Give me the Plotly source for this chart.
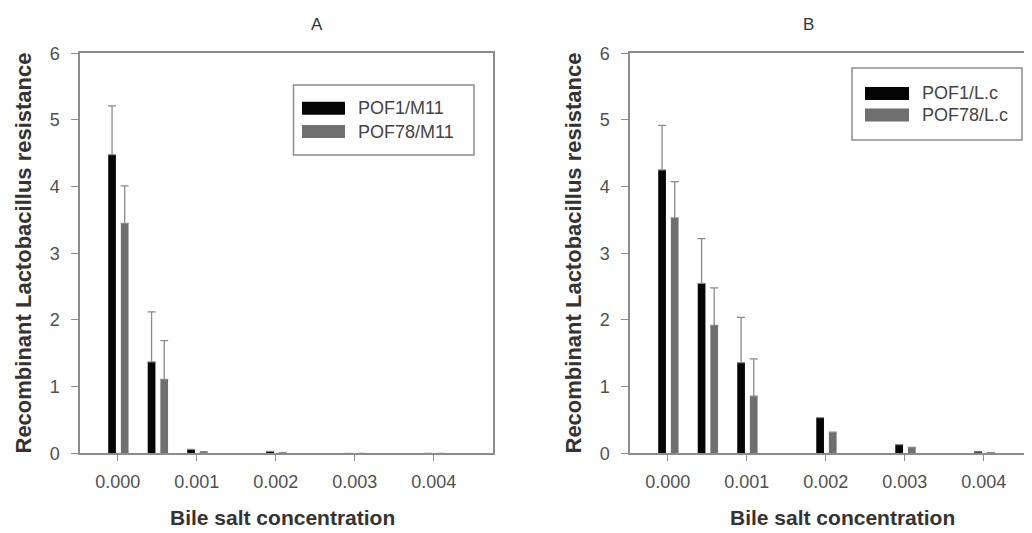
import plotly.graph_objects as go

# page body has an 8px margin; the figure is drawn 8px right/down of the window origin
OFF = 8
W, H = 1032 - OFF, 533 - OFF

# ---------------- data ----------------
concentration = [0.0, 0.0005, 0.001, 0.002, 0.003, 0.004]
tick_vals = [0.0, 0.001, 0.002, 0.003, 0.004]
tick_text = ["0.000", "0.001", "0.002", "0.003", "0.004"]

# Panel A
a_pof1_m11 = [4.48, 1.37, 0.06, 0.03, 0.0, 0.0]
a_pof1_m11_err = [0.73, 0.75, 0.0, 0.0, 0.0, 0.0]
a_pof78_m11 = [3.45, 1.11, 0.02, 0.01, 0.0, 0.0]
a_pof78_m11_err = [0.56, 0.58, 0.0, 0.0, 0.0, 0.0]

# Panel B
b_pof1_lc = [4.25, 2.55, 1.36, 0.535, 0.13, 0.02]
b_pof1_lc_err = [0.67, 0.67, 0.68, 0.0, 0.0, 0.0]
b_pof78_lc = [3.53, 1.92, 0.856, 0.316, 0.087, 0.01]
b_pof78_lc_err = [0.545, 0.56, 0.56, 0.0, 0.0, 0.0]

names_a = ["POF1/M11", "POF78/M11"]
names_b = ["POF1/L.c", "POF78/L.c"]

# ---------------- style ----------------
BLACK = "#050505"
GRAY = "#6f6f6f"
AXIS = "#8c8c8c"
ERR = "#8a8a8a"
FONT = "Arial, Liberation Sans, sans-serif"
BAR_W = 0.0000975
OFF_1 = -0.00012
OFF_2 = 0.00004


def px(x):
    return (x - OFF) / W


def py(y):
    return (H - (y - OFF)) / H


fig = go.Figure()


def add_pair(v1, e1, v2, e2, n1, n2, xa, ya):
    fig.add_trace(go.Bar(
        x=concentration, y=v1, name=n1, width=BAR_W, offset=OFF_1,
        marker=dict(color=BLACK, line=dict(width=0)),
        error_y=dict(type="data", symmetric=False, array=e1,
                     arrayminus=[0] * len(e1), color=ERR, thickness=1.3, width=4),
        xaxis=xa, yaxis=ya, showlegend=False))
    fig.add_trace(go.Bar(
        x=concentration, y=v2, name=n2, width=BAR_W, offset=OFF_2,
        marker=dict(color=GRAY, line=dict(width=0)),
        error_y=dict(type="data", symmetric=False, array=e2,
                     arrayminus=[0] * len(e2), color=ERR, thickness=1.3, width=4),
        xaxis=xa, yaxis=ya, showlegend=False))


add_pair(a_pof1_m11, a_pof1_m11_err, a_pof78_m11, a_pof78_m11_err,
         names_a[0], names_a[1], "x", "y")
add_pair(b_pof1_lc, b_pof1_lc_err, b_pof78_lc, b_pof78_lc_err,
         names_b[0], names_b[1], "x2", "y2")

ydom = [py(453.3), py(53.3)]

xcommon = dict(
    tickvals=tick_vals, ticktext=tick_text, ticks="outside", ticklen=6,
    tickcolor=AXIS, tickwidth=1.3, showline=True, linecolor=AXIS, linewidth=1.5,
    mirror=True, showgrid=False, zeroline=False, automargin=False,
    tickfont=dict(family=FONT, size=18, color="#505050"), ticklabelstandoff=5,
)
ycommon = dict(
    range=[0, 6], dtick=1, ticks="outside", ticklen=7, tickcolor=AXIS,
    tickwidth=1.3, showline=True, linecolor=AXIS, linewidth=1.5,
    showgrid=False, zeroline=False, automargin=False,
    tickfont=dict(family=FONT, size=18, color="#505050"), ticklabelstandoff=8,
)

fig.update_layout(
    width=W, height=H,
    margin=dict(l=0, r=0, t=0, b=0),
    paper_bgcolor="white", plot_bgcolor="white",
    barmode="overlay",
    xaxis=dict(domain=[px(80), px(493)], range=[-0.000477, 0.00475], **xcommon),
    yaxis=dict(domain=ydom, mirror=True, **ycommon),
    xaxis2=dict(domain=[px(630), 1.0], range=[-0.000477, 0.00461], anchor="y2", **xcommon),
    yaxis2=dict(domain=ydom, mirror=False, anchor="x2", **ycommon),
)

ann = []
shapes = []


def text(t, x, y, size, color, angle=0, xanchor="center"):
    ann.append(dict(text=t, x=px(x), y=py(y), xref="paper", yref="paper",
                    xanchor=xanchor, yanchor="middle", showarrow=False, textangle=angle,
                    font=dict(family=FONT, size=size, color=color)))


# panel titles
text("A", 317, 24.5, 17, "#333333")
text("B", 808, 24.5, 17, "#333333")

# axis titles
for xc in (22.5, 572.5):
    text("<b>Recombinant Lactobacillus resistance</b>", xc, 253, 22, "#333333", angle=-90)
for xc in (282.5, 842.5):
    text("<b>Bile salt concentration</b>", xc, 517.5, 21, "#333333")


def legend(box, sw_x, rows, text_x, labels):
    x0, y0, x1, y1 = box
    shapes.append(dict(type="rect", xref="paper", yref="paper",
                       x0=px(x0), x1=px(x1), y0=py(y1), y1=py(y0),
                       line=dict(color=AXIS, width=1.5), fillcolor="white"))
    for (yc, color, lab) in zip(rows, (BLACK, GRAY), labels):
        shapes.append(dict(type="rect", xref="paper", yref="paper",
                           x0=px(sw_x[0]), x1=px(sw_x[1]), y0=py(yc + 6.5), y1=py(yc - 6.5),
                           line=dict(width=0), fillcolor=color))
        text(lab, text_x, yc, 18, "#444444", xanchor="left")


legend((293.5, 85, 474, 155), (302, 345), (108.3, 131.5), 356, names_a)
legend((852, 68, 1022, 140), (865, 909), (93.5, 115), 920, names_b)

fig.update_layout(annotations=ann, shapes=shapes)
fig.write_html("out.html")
